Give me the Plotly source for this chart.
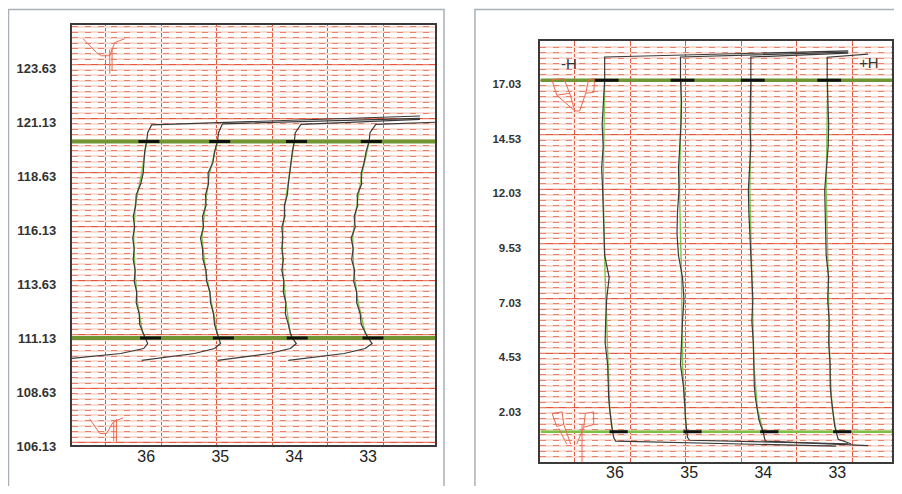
import plotly.graph_objects as go

# ---------------- data ----------------
stations = ["36", "35", "34", "33"]
station_x = [3.35, 6.69, 10.02, 13.35]

# left panel
left_ticks = [106.13, 108.63, 111.13, 113.63, 116.13, 118.63, 121.13, 123.63]
left_levels = [120.07, 110.97]
left_depth = [120.07, 119.6, 119.1, 118.6, 118.1, 117.6, 117.1, 116.6, 116.1, 115.6,
              115.1, 114.6, 114.1, 113.6, 113.1, 112.6, 112.1, 111.6, 111.2, 110.97]
left_meas = {
    "36": [3.372, 3.282, 3.260, 3.215, 3.103, 2.900, 2.878, 2.765, 2.833, 2.743,
           2.810, 2.765, 2.855, 2.810, 2.923, 2.900, 3.035, 3.058, 3.215, 3.327],
    "35": [6.565, 6.430, 6.362, 6.138, 6.160, 6.025, 6.048, 5.890, 5.935, 5.800,
           5.890, 5.913, 6.048, 6.070, 6.227, 6.250, 6.385, 6.430, 6.565, 6.610],
    "34": [10.027, 9.937, 9.870, 9.825, 9.757, 9.712, 9.577, 9.600, 9.465, 9.510,
           9.465, 9.532, 9.465, 9.555, 9.532, 9.645, 9.622, 9.757, 9.847, 9.937],
    "33": [13.399, 13.264, 13.174, 13.040, 13.062, 12.860, 12.882, 12.725, 12.770, 12.590,
           12.680, 12.612, 12.747, 12.702, 12.837, 12.837, 12.995, 13.040, 13.219, 13.354],
}
left_fit_depth = [120.07, 118.6, 117.1, 115.6, 114.1, 112.6, 111.2, 110.97]
left_fit = {
    "36": [3.372, 3.147, 2.855, 2.788, 2.842, 2.958, 3.192, 3.327],
    "35": [6.565, 6.205, 6.007, 5.863, 6.025, 6.286, 6.547, 6.610],
    "34": [10.027, 9.825, 9.600, 9.487, 9.510, 9.645, 9.847, 9.937],
    "33": [13.399, 13.084, 12.837, 12.657, 12.702, 12.905, 13.219, 13.354],
}
left_top_x = {"36": [15.69, 3.597, 3.417], "35": [15.69, 6.79, 6.61],
              "34": [15.69, 10.33, 10.07], "33": [16.37, 13.70, 13.44]}
left_top_y = {"36": [121.25, 120.84, 120.48], "35": [121.14, 120.89, 120.48],
              "34": [121.09, 120.86, 120.48], "33": [120.96, 120.86, 120.48]}
left_bot_x = {"36": [3.417, 3.237, 2.203, 0.0], "35": [6.700, 6.430, 5.531, 3.147],
              "34": [10.117, 9.847, 8.903, 6.565], "33": [13.534, 13.219, 12.275, 9.757]}
left_bot_y = {"36": [110.71, 110.48, 110.25, 110.02], "35": [110.71, 110.48, 110.25, 109.93],
              "34": [110.71, 110.48, 110.25, 109.93], "33": [110.71, 110.48, 110.25, 109.93]}

# right panel
right_ticks = [2.03, 4.53, 7.03, 9.53, 12.03, 14.53, 17.03]
right_levels = [17.03, 0.93]
right_depth = [17.03, 16, 15, 14, 13, 12, 11, 10, 9, 8, 7, 6, 5, 4, 3, 2.5, 2, 1.5, 1.2, 0.93]
right_meas = {
    "36": [2.886, 2.841, 2.774, 2.819, 2.751, 2.796, 2.819, 2.841, 2.886, 3.088,
           2.976, 2.931, 2.908, 3.021, 3.043, 3.066, 3.110, 3.155, 3.200, 3.245],
    "35": [6.297, 6.342, 6.320, 6.252, 6.207, 6.230, 6.162, 6.140, 6.207, 6.387,
           6.454, 6.387, 6.342, 6.297, 6.432, 6.477, 6.499, 6.522, 6.544, 6.566],
    "34": [9.461, 9.439, 9.417, 9.461, 9.394, 9.349, 9.372, 9.417, 9.484, 9.506,
           9.551, 9.506, 9.574, 9.596, 9.618, 9.663, 9.731, 9.820, 9.910, 10.022],
    "33": [12.895, 12.917, 12.962, 12.940, 12.873, 12.783, 12.805, 12.828, 12.850, 12.962,
           12.917, 12.985, 12.962, 13.030, 13.030, 13.075, 13.142, 13.187, 13.232, 13.299],
}
right_fit_depth = [17.03, 12, 8, 4, 2, 0.93]
right_fit = {
    "36": [2.886, 2.819, 2.908, 3.021, 3.110, 3.245],
    "35": [6.342, 6.252, 6.342, 6.387, 6.499, 6.566],
    "34": [9.484, 9.417, 9.506, 9.596, 9.753, 10.022],
    "33": [12.917, 12.850, 12.940, 13.007, 13.119, 13.299],
}
right_top_x = {"36": [13.84, 2.886], "35": [13.84, 6.297],
               "34": [13.84, 9.461], "33": [14.735, 12.895]}
right_top_y = {"36": [18.37, 18.09], "35": [18.31, 18.09],
               "34": [18.27, 18.09], "33": [18.22, 18.08]}
right_bot_x = {"36": [3.290, 3.380, 13.299], "35": [6.611, 6.701, 13.84],
               "34": [10.067, 10.112, 14.735], "33": [13.344, 13.389, 13.973]}
right_bot_y = {"36": [0.675, 0.495, 0.27], "35": [0.675, 0.54, 0.38],
               "34": [0.675, 0.495, 0.29], "33": [0.675, 0.585, 0.38]}

# small section sketches (red)
left_sketch_top_x = [0.508, 1.111, 1.335, 1.709, 1.933, 2.383]
left_sketch_top_y = [124.83, 124.19, 124.04, 124.04, 124.65, 124.83]
left_sketch_top_stem_x = [1.709, 1.709, None, 1.812, 1.812]
left_sketch_top_stem_y = [124.34, 123.21, None, 124.34, 123.34]
left_sketch_bot_x = [0.809, 1.259, 1.560, 1.857, 2.307, None, 2.010, 2.010, None, 1.888, 1.888]
left_sketch_bot_y = [107.22, 106.54, 106.54, 107.07, 107.27, None, 107.22, 106.13, None, 107.07, 106.2]
right_sketch_top_x = [0.507, 1.046, 1.315, 1.540, 1.764, 2.033, 2.168, 2.437, 2.392, 2.033,
                      None, 0.507, 0.732, 1.315, None, 0.732, 1.540]
right_sketch_top_y = [17.06, 17.10, 16.43, 15.62, 15.62, 16.43, 17.06, 17.10, 16.47, 16.43,
                      None, 17.06, 16.34, 16.43, None, 16.34, 15.62]
right_sketch_bot_x = [0.521, 0.969, 1.046, 0.732, 0.521, None, 0.821, 1.180, None, 1.046, 1.360,
                      None, 2.020, 2.392, 2.392, 1.943, 2.020, None, 1.943, 1.629, None, 1.867, 1.867]
right_sketch_bot_y = [1.765, 1.84, 1.26, 1.17, 1.765, None, 1.08, 0.36, None, 1.26, 0.36,
                      None, 1.765, 1.84, 1.26, 1.13, 1.765, None, 1.13, 0.36, None, 1.26, -0.45]

# ---------------- layout / styles ----------------
left_xrange = [0, 16.37]
left_yrange = [106.03, 125.48]
right_xrange = [0, 15.81]
right_yrange = [-0.47, 18.82]

INK = "#3a3a3a"
FIT = "#7fc24e"
MAJOR = "#e4573d"
MINOR_DASH = "#e7826b"
MINOR_BASE = "#f9ddd5"
SKETCH = "#ec6a50"
OLIVE = "#6f9633"

fig = go.Figure()


def level_lines(levels, widths, colors, xrange_, xa, ya):
    for lv, w, c in zip(levels, widths, colors):
        fig.add_trace(go.Scatter(x=xrange_, y=[lv, lv], mode="lines",
                                 line=dict(color=c, width=w), xaxis=xa, yaxis=ya,
                                 showlegend=False, hoverinfo="skip"))


def sketch(x, y, xa, ya):
    fig.add_trace(go.Scatter(x=x, y=y, mode="lines", line=dict(color=SKETCH, width=1),
                             xaxis=xa, yaxis=ya, showlegend=False, hoverinfo="skip",
                             connectgaps=False))


def add_panel(xa, ya, meas, depth, fit, fit_depth, top_x, top_y, bot_x, bot_y,
              up_shift, low_shift, up_size, low_size):
    for s in stations:
        fig.add_trace(go.Scatter(x=fit[s], y=fit_depth, mode="lines",
                                 line=dict(color=FIT, width=1.4),
                                 xaxis=xa, yaxis=ya, showlegend=False, hoverinfo="skip"))
    for s in stations:
        xs = top_x[s] + meas[s] + bot_x[s]
        ys = top_y[s] + depth + bot_y[s]
        fig.add_trace(go.Scatter(x=xs, y=ys, mode="lines",
                                 line=dict(color=INK, width=1.2),
                                 xaxis=xa, yaxis=ya, showlegend=False, hoverinfo="skip"))
    fig.add_trace(go.Scatter(
        x=[meas[s][0] + up_shift for s in stations], y=[depth[0]] * 4, mode="markers",
        marker=dict(symbol="line-ew", size=up_size, line=dict(color="#111", width=3)),
        xaxis=xa, yaxis=ya, showlegend=False, hoverinfo="skip"))
    fig.add_trace(go.Scatter(
        x=[meas[s][-1] + low_shift for s in stations], y=[depth[-1]] * 4, mode="markers",
        marker=dict(symbol="line-ew", size=low_size, line=dict(color="#111", width=3)),
        xaxis=xa, yaxis=ya, showlegend=False, hoverinfo="skip"))


# empty traces so the overlay grid axes exist
fig.add_trace(go.Scatter(x=[], y=[], xaxis="x", yaxis="y3", showlegend=False, hoverinfo="skip"))
fig.add_trace(go.Scatter(x=[], y=[], xaxis="x2", yaxis="y4", showlegend=False, hoverinfo="skip"))

level_lines(left_levels, [4, 4], [OLIVE, OLIVE], left_xrange, "x", "y")
level_lines(right_levels, [3.5, 2.5], [OLIVE, "#7cc144"], right_xrange, "x2", "y2")

sketch(left_sketch_top_x, left_sketch_top_y, "x", "y")
sketch(left_sketch_top_stem_x, left_sketch_top_stem_y, "x", "y")
sketch(left_sketch_bot_x, left_sketch_bot_y, "x", "y")
sketch(right_sketch_top_x, right_sketch_top_y, "x2", "y2")
sketch(right_sketch_bot_x, right_sketch_bot_y, "x2", "y2")

add_panel("x", "y", left_meas, left_depth, left_fit, left_fit_depth,
          left_top_x, left_top_y, left_bot_x, left_bot_y, 0.1, 0.22, 15, 15)
add_panel("x2", "y2", right_meas, right_depth, right_fit, right_fit_depth,
          right_top_x, right_top_y, right_bot_x, right_bot_y, 0.09, 0.27, 17, 13)

tickfont_x = dict(family="Arial, Liberation Sans", size=16, color="#222")


def xaxis_cfg(domain, rng, anchor, standoff):
    return dict(domain=domain, range=rng, anchor=anchor, tickmode="array",
                tickvals=station_x, ticktext=stations, showgrid=False, zeroline=False,
                ticks="", ticklen=0, tickfont=tickfont_x, showline=True, mirror=True,
                linecolor=INK, linewidth=2, ticklabelstandoff=standoff,
                minor=dict(tickmode="linear", tick0=1.535, dtick=2.5, showgrid=True,
                           gridcolor=MAJOR, gridwidth=1.3, ticks=""))


def yaxis_cfg(domain, rng, anchor, ticks, standoff, fsize):
    return dict(domain=domain, range=rng, anchor=anchor, tickmode="array",
                tickvals=ticks, ticktext=["%.2f" % t for t in ticks],
                showgrid=True, gridcolor=MAJOR, gridwidth=1.3, zeroline=False,
                ticks="", tickfont=dict(family="Arial, Liberation Sans", size=fsize,
                                        color="#333", weight="bold"),
                showline=True, mirror=True,
                linecolor=INK, linewidth=2, ticklabelshift=4, ticklabelstandoff=standoff,
                minor=dict(tickmode="linear", tick0=ticks[0], dtick=0.25, showgrid=True,
                           gridcolor=MINOR_BASE, gridwidth=2, ticks=""))


def overlay_cfg(rng, anchor, overlay, tick0):
    return dict(range=rng, anchor=anchor, overlaying=overlay, tickmode="linear",
                tick0=tick0, dtick=0.25, showgrid=True, gridcolor=MINOR_DASH,
                gridwidth=1.2, griddash="6px,7px", showticklabels=False, ticks="",
                showline=False, zeroline=False)


# the page body keeps an 8px margin on every side, so the figure is 16px smaller
# than the 902x494 window and every paper position is measured from that offset
W, H = 886, 478
shapes = [
    dict(type="rect", xref="paper", yref="paper", x0=0.5 / W, x1=437 / W,
         y0=-0.05, y1=1 - 1.5 / H, line=dict(color="#aab0b8", width=1.5)),
    dict(type="rect", xref="paper", yref="paper", x0=468 / W, x1=1.05,
         y0=-0.05, y1=1 - 1.5 / H, line=dict(color="#aab0b8", width=1.5)),
]

annotations = [
    dict(x=1.27, y=17.78, xref="x2", yref="y2", text="-H", showarrow=False,
         font=dict(family="Arial, Liberation Sans", size=15, color="#333")),
    dict(x=14.78, y=17.86, xref="x2", yref="y2", text="+H", showarrow=False,
         font=dict(family="Arial, Liberation Sans", size=15, color="#333")),
]

fig.update_layout(
    width=W, height=H, margin=dict(l=0, r=0, t=0, b=0),
    paper_bgcolor="white", plot_bgcolor="white",
    xaxis=xaxis_cfg([64 / W, 428 / W], left_xrange, "y", -4),
    yaxis=yaxis_cfg([1 - 445 / H, 1 - 17 / H], left_yrange, "x", left_ticks, 11, 13),
    yaxis3=overlay_cfg(left_yrange, "x", "y", left_ticks[0]),
    xaxis2=xaxis_cfg([533.7 / W, 1.0], right_xrange, "y2", -5),
    yaxis2=yaxis_cfg([1 - 463 / H, 1 - 33.7 / H], right_yrange, "x2", right_ticks, 15, 11.5),
    yaxis4=overlay_cfg(right_yrange, "x2", "y2", right_ticks[0]),
    shapes=shapes, annotations=annotations, showlegend=False,
)

fig.write_html("out.html")
